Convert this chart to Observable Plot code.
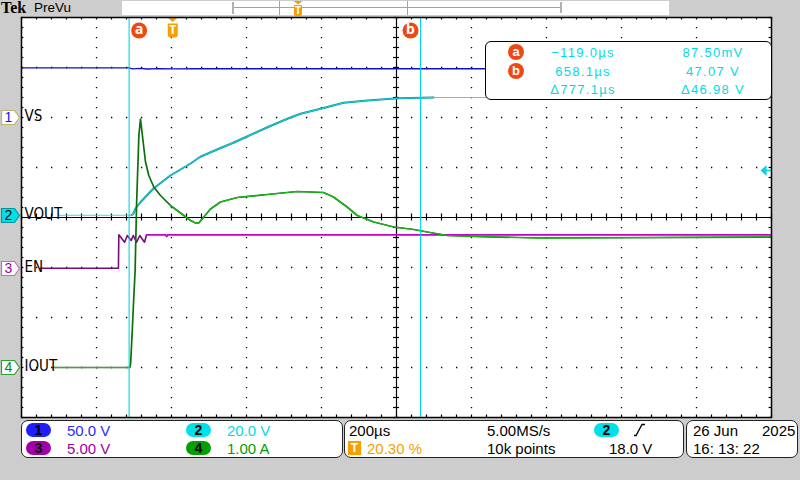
<!DOCTYPE html>
<html><head><meta charset="utf-8">
<script src="https://cdn.jsdelivr.net/npm/d3@7"></script>
<script src="https://cdn.jsdelivr.net/npm/@observablehq/plot@0.6"></script>
<style>
html,body{margin:0;padding:0;background:#cdcdcd;}
#scope{position:relative;width:800px;height:480px;overflow:hidden;background:#cdcdcd;font-family:"Liberation Sans",Arial,sans-serif;}
#plotwrap{position:absolute;left:0;top:0;}
.abs{position:absolute;white-space:nowrap;}
.box{position:absolute;background:#fff;border:1px solid #222;border-radius:7px;box-sizing:border-box;}
.pill{position:absolute;width:25px;height:14px;border-radius:7px;font:bold 14px "Liberation Sans",Arial,sans-serif;color:#000;text-align:center;line-height:14px;}
.t15{position:absolute;white-space:nowrap;font-size:15px;line-height:15px;}
.t13{position:absolute;white-space:nowrap;font-size:13px;line-height:13px;letter-spacing:1.3px;color:#00dbe6;width:110px;text-align:center;}
.rc{position:absolute;width:16px;height:16px;border-radius:50%;background:#f04812;color:#fff;font:bold 13px "Liberation Sans",Arial,sans-serif;text-align:center;line-height:15px;}
</style>
</head>
<body>
<div id="scope">
  <div id="plotwrap"></div>
</div>
<script>
// ---------- scope settings ----------
const chIds = ["1", "2", "3", "4"];
const chNames = ["VS", "VOUT", "EN", "IOUT"];
const chPerDiv = [50, 20, 5, 1];          // V/div, V/div, V/div, A/div
const chUnits = ["V", "V", "V", "A"];
const chOffsetDiv = [2.0, 0.04, -1.02, -3.0];
const timePerDiv = 200;                    // µs/div
const triggerPosPct = 20.30;               // %
const sampleRate = "5.00MS/s";
const recordLength = "10k points";
const triggerChannel = 1;                  // index of ch2
const triggerLevel = 18.0;                 // V
const dateText = ["26 Jun", "2025"];
const clockText = "16: 13: 22";

// ---------- cursors ----------
const cursorNames = ["a", "b"];
const cursorTime = [-119.0, 658.1];        // µs
const cursorValue = [0.0875, 47.07];       // V (ch2)

// ---------- waveforms: [time µs, value] ----------
const VS = [[-406, 49.6], [-119, 49.6], [-110, 48.6], [-90, 49.1], [-70, 48.5], [-40, 48.9], [0, 48.6], [60, 48.8], [1594, 48.7]];
const VOUT = [[-307, 0.1], [-113, 0.1], [-108, 0.6], [-102, 2.8], [-89, 5.3], [-54, 10.8], [-9, 16.0], [45, 20.8], [71, 23.5],
  [125, 27.0], [159, 29.1], [197, 31.7], [250, 35.3], [303, 38.7], [338, 40.7], [397, 42.9], [453, 45.1], [517, 46.0],
  [597, 46.9], [693, 47.2], [1594, 47.2]];
const EN = [[-355, 0.03], [-147.5, 0.03], [-146.5, 3.37], [-131, 2.63], [-124, 3.3], [-113.5, 2.8], [-108, 3.3], [-99, 2.63],
  [-90.5, 3.3], [-78, 2.63], [-72.5, 3.37], [-22, 3.37], [-19, 3.2], [-16, 3.37], [1594, 3.37]];
const IOUT = [[-323, 0], [-117, 0], [-115, 0.08], [-111, 0.68], [-107, 1.34], [-103, 1.94], [-99, 3.3], [-93, 4.64], [-88.7, 4.97],
  [-82.5, 4.57], [-75.3, 4.11], [-66.5, 3.84], [-53.2, 3.61], [-35.3, 3.44], [-8.7, 3.24], [18, 3.09], [44.7, 2.94], [58, 2.89],
  [66.8, 2.89], [80.1, 3.01], [98, 3.17], [124.7, 3.31], [169.2, 3.40], [249.2, 3.46], [329.2, 3.52], [399.3, 3.50], [426, 3.41],
  [462.5, 3.21], [489.2, 3.04], [533.5, 2.91], [586.8, 2.81], [640.1, 2.76], [675.9, 2.71], [729.2, 2.64], [800.1, 2.62],
  [978, 2.59], [1594, 2.61]];

// ---------- derived ----------
const t0 = -triggerPosPct / 100 * 10 * timePerDiv;
const t1 = t0 + 10 * timePerDiv;
const tCenter = t0 + 5 * timePerDiv;
const yOf = (ch) => (v) => chOffsetDiv[ch] + v / chPerDiv[ch];
const X = d => d[0];

const col = {
  vs: "#1010c0", voutDark: "#0a8e98", vout: "#14dce6", enDark: "#7a0a7a", en: "#e000e0",
  ioutDark: "#0b700b", iout: "#18c018", cursor: "#00d6e4", red: "#f04812", trig: "#f5a000"
};
const markFill = ["#ffffff", "#00e0e8", "#ffffff", "#ffffff"];
const markStroke = ["#b8b870", "#0098a0", "#c070c0", "#30a030"];
const markText = ["#1414ff", "#000000", "#a000a0", "#009000"];

const channels = chIds.map((id, i) => ({id, i, name: chNames[i], pos: chOffsetDiv[i]}));

const flag = {draw(ctx) {ctx.moveTo(-9, -7); ctx.lineTo(4, -7); ctx.lineTo(9, 0); ctx.lineTo(4, 7); ctx.lineTo(-9, 7); ctx.closePath();}};
const trigMark = {draw(ctx) {
  ctx.moveTo(-5, -10); ctx.lineTo(5, -10); ctx.lineTo(0, -5.5); ctx.closePath();
  ctx.moveTo(-5, -4); ctx.lineTo(5, -4); ctx.lineTo(5, 7); ctx.quadraticCurveTo(5, 10, 2, 10); ctx.lineTo(-2, 10);
  ctx.quadraticCurveTo(-5, 10, -5, 7); ctx.closePath();
}};
const leftArrow = {draw(ctx) {
  ctx.moveTo(-11, 0); ctx.lineTo(-5, -5.5); ctx.lineTo(-5, 5.5); ctx.closePath();
  ctx.rect(-5, -0.8, 5, 1.6);
}};

const majorT = d3.range(1, 10).filter(k => k !== 5).map(k => t0 + k * timePerDiv);
const majorY = [-3, -2, -1, 1, 2, 3];
const minorT = d3.range(0, 51).map(k => t0 + k * timePerDiv / 5);
const minorY = d3.range(0, 41).map(k => -4 + k * 0.2);
const tickDT = timePerDiv / 75 * 3;

const seg = (arr, a, b) => arr.filter(d => d[0] >= a && d[0] <= b);

const plot = Plot.plot({
  width: 800, height: 420,
  marginLeft: 21, marginRight: 29, marginTop: 17, marginBottom: 3,
  x: {domain: [t0, t1], axis: null},
  y: {domain: [-4, 4], axis: null},
  color: {type: "identity"},
  style: {background: "transparent", overflow: "visible"},
  marks: [
    Plot.frame({fill: "white", stroke: null}),
    Plot.ruleY(majorY, {stroke: "#000", strokeWidth: 1.3, strokeDasharray: "1.3,13.7"}),
    Plot.ruleX(majorT, {stroke: "#000", strokeWidth: 1.3, strokeDasharray: "1.3,8.7"}),
    Plot.ruleX([tCenter], {stroke: "#000", strokeWidth: 1.2}),
    Plot.ruleY([0], {stroke: "#000", strokeWidth: 1.2}),
    Plot.ruleX(minorT, {y1: -0.07, y2: 0.07, stroke: "#000", strokeWidth: 1.2}),
    Plot.ruleY(minorY, {x1: tCenter - tickDT, x2: tCenter + tickDT, stroke: "#000", strokeWidth: 1.2}),
    Plot.ruleX(minorT, {y1: 4, y2: 3.95, stroke: "#000", strokeWidth: 1.2}),
    Plot.ruleX(minorT, {y1: -4, y2: -3.95, stroke: "#000", strokeWidth: 1.2}),
    Plot.ruleY(minorY, {x1: t0, x2: t0 + tickDT * 0.8, stroke: "#000", strokeWidth: 1.2}),
    Plot.ruleY(minorY, {x1: t1 - tickDT * 0.8, x2: t1, stroke: "#000", strokeWidth: 1.2}),

    // VS
    Plot.line(VS, {x: X, y: d => yOf(0)(d[1]), stroke: col.vs, strokeWidth: 1.4}),
    // VOUT
    Plot.line(seg(VOUT, -113, 700), {x: X, y: d => yOf(1)(d[1]), stroke: col.voutDark, strokeWidth: 2}),
    Plot.line(VOUT, {x: X, y: d => yOf(1)(d[1]), stroke: col.vout, strokeWidth: 0.9}),
    // EN
    Plot.line(EN, {x: X, y: d => yOf(2)(d[1]), stroke: col.enDark, strokeWidth: 1.6}),
    Plot.line(seg(EN, -73, 2000), {x: X, y: d => yOf(2)(d[1]), stroke: col.en, strokeWidth: 1.2}),
    // IOUT
    Plot.line(IOUT, {x: X, y: d => yOf(3)(d[1]), stroke: col.ioutDark, strokeWidth: 1.7}),
    Plot.line(seg(IOUT, -400, -116), {x: X, y: d => yOf(3)(d[1]), stroke: col.iout, strokeWidth: 1.1}),
    Plot.line(seg(IOUT, -10, 2000), {x: X, y: d => yOf(3)(d[1]), stroke: col.iout, strokeWidth: 1.1}),

    // cursors
    Plot.ruleX(cursorTime, {stroke: col.cursor, strokeWidth: 1.1}),
    Plot.dot([cursorTime[0]], {x: d => d, y: () => 3.74, r: 8, fill: col.red, stroke: null, dx: 10}),
    Plot.text([cursorTime[0]], {x: d => d, y: () => 3.74, text: () => cursorNames[0], dx: 10, dy: -1, fill: "white", fontWeight: "bold", fontSize: 14}),
    Plot.dot([cursorTime[1]], {x: d => d, y: () => 3.74, r: 8, fill: col.red, stroke: null, dx: -10}),
    Plot.text([cursorTime[1]], {x: d => d, y: () => 3.74, text: () => cursorNames[1], dx: -10, dy: -1, fill: "white", fontWeight: "bold", fontSize: 14}),

    // trigger position marker
    Plot.dot([0], {x: d => d, y: () => 3.8, symbol: trigMark, r: 5, fill: col.trig, stroke: null, dx: -1}),
    Plot.text([0], {x: d => d, y: () => 3.8, text: () => "T", dx: -1, dy: 3, fill: "white", fontWeight: "bold", fontSize: 12}),
    // trigger level arrow
    Plot.dot([triggerLevel], {x: () => t1, y: v => yOf(triggerChannel)(v), symbol: leftArrow, r: 5, fill: col.cursor, stroke: null}),

    // channel ground markers and labels
    Plot.dot(channels, {x: () => t0, y: "pos", dx: -11, symbol: flag, r: 5, fill: d => markFill[d.i], stroke: d => markStroke[d.i], strokeWidth: 1.2}),
    Plot.text(channels, {x: () => t0, y: "pos", dx: -13, text: "id", fill: d => markText[d.i], fontSize: 14, fontFamily: "Liberation Sans, Arial, sans-serif"}),
    Plot.text(channels, {x: () => t0, y: "pos", dx: 3, dy: -1, text: "name", textAnchor: "start", fill: "#000", fontSize: 15, fontFamily: "Liberation Sans Narrow, DejaVu Sans Condensed, Arial Narrow, sans-serif"}),

    Plot.frame({stroke: "#000", strokeWidth: 1.5})
  ]
});
document.getElementById("plotwrap").appendChild(plot);

// ---------- HTML chrome ----------
const scope = document.getElementById("scope");
function add(html) { scope.insertAdjacentHTML("beforeend", html); }

// top bar
add(`<div class="abs" style="left:1px;top:0px;font:bold 16px 'Liberation Serif',serif;color:#000;line-height:16px">Tek</div>`);
add(`<div class="abs" style="left:34px;top:1px;font-size:13.5px;line-height:13.5px;color:#000">PreVu</div>`);
add(`<div class="abs" style="left:122px;top:1px;width:547px;height:14px;background:#fff"></div>`);
add(`<div class="abs" style="left:232px;top:2px;width:2px;height:11px;background:#b0b0b0;border-top:1px solid #b0b0b0"></div>`);
add(`<div class="abs" style="left:560px;top:2px;width:2px;height:11px;background:#b0b0b0"></div>`);
add(`<div class="abs" style="left:234px;top:7px;width:326px;height:1px;background:#20d8e2"></div>`);
add(`<div class="abs" style="left:279px;top:1px;width:1px;height:14px;background:#20d8e2"></div>`);
add(`<div class="abs" style="left:407px;top:1px;width:1px;height:14px;background:#20d8e2"></div>`);
add(`<svg class="abs" style="left:293px;top:1px" width="11" height="15"><path d="M0.5,0 L9.5,0 L5,3.5Z M1,4 L9,4 L9,13 Q9,15 7,15 L3,15 Q1,15 1,13Z" fill="${col.trig}"/><text x="5" y="13" text-anchor="middle" font-size="10" font-weight="bold" fill="#fff" font-family="Liberation Sans">T</text></svg>`);

// cursor readout box
const fmtT = t => (t < 0 ? "\u2212" : "") + Math.abs(t).toFixed(1) + "\u00b5s";
const fmtV = v => Math.abs(v) < 1 ? (v * 1000).toFixed(2) + "mV" : v.toFixed(2) + " V";
add(`<div class="box" style="left:485px;top:41px;width:287px;height:59px;border-radius:6px;border-color:#000"></div>`);
const rowTop = [46, 65, 83];
cursorNames.forEach((n, i) => {
  add(`<div class="rc" style="left:508px;top:${44 + i * 19}px">${n}</div>`);
  add(`<div class="t13" style="left:528px;top:${rowTop[i]}px">${fmtT(cursorTime[i])}</div>`);
  add(`<div class="t13" style="left:658px;top:${rowTop[i]}px">${fmtV(cursorValue[i])}</div>`);
});
add(`<div class="t13" style="left:528px;top:${rowTop[2]}px">\u0394${fmtT(cursorTime[1] - cursorTime[0])}</div>`);
add(`<div class="t13" style="left:658px;top:${rowTop[2]}px">\u0394${fmtV(cursorValue[1] - cursorValue[0])}</div>`);

// bottom panels
add(`<div class="box" style="left:21px;top:420px;width:322px;height:38px"></div>`);
add(`<div class="box" style="left:344px;top:420px;width:340px;height:38px"></div>`);
add(`<div class="box" style="left:686px;top:420px;width:112px;height:38px"></div>`);
const pillColor = ["#1e1eff", "#00e0e8", "#a000a8", "#00a000"];
const textColor = ["#2a2aff", "#00dbe6", "#a000a0", "#00a000"];
const pillPos = [[26, 423], [186, 423], [26, 441], [186, 441]];
chIds.forEach((id, i) => {
  const [px, py] = pillPos[i];
  add(`<div class="pill" style="left:${px}px;top:${py}px;background:${pillColor[i]}">${id}</div>`);
  add(`<div class="t15" style="left:${px + 41}px;top:${py}px;color:${textColor[i]}">${chPerDiv[i].toPrecision(3)} ${chUnits[i]}</div>`);
});
add(`<div class="t15" style="left:349px;top:423px;color:#000">${timePerDiv}\u00b5s</div>`);
add(`<div class="abs" style="left:348px;top:441px;width:13px;height:14px;background:${col.trig};color:#fff;font:bold 12px 'Liberation Sans';text-align:center;line-height:14px">T</div>`);
add(`<div class="t15" style="left:367px;top:441px;color:${col.trig}">${triggerPosPct.toFixed(2)} %</div>`);
add(`<div class="t15" style="left:487px;top:423px;color:#000">${sampleRate}</div>`);
add(`<div class="t15" style="left:487px;top:441px;color:#000">${recordLength}</div>`);
add(`<div class="pill" style="left:594px;top:423px;background:#00e0e8">${chIds[triggerChannel]}</div>`);
add(`<svg class="abs" style="left:632px;top:423px" width="16" height="14"><path d="M2,12.5 L4,12.5 L10,1.5 L13,1.5" fill="none" stroke="#000" stroke-width="1.3"/></svg>`);
add(`<div class="t15" style="left:609px;top:441px;color:#000">${triggerLevel.toFixed(1)} V</div>`);
add(`<div class="t15" style="left:693px;top:423px;color:#000">${dateText[0]}</div>`);
add(`<div class="t15" style="left:762px;top:423px;color:#000">${dateText[1]}</div>`);
add(`<div class="t15" style="left:693px;top:441px;color:#000">${clockText}</div>`);
</script>
</body></html>
